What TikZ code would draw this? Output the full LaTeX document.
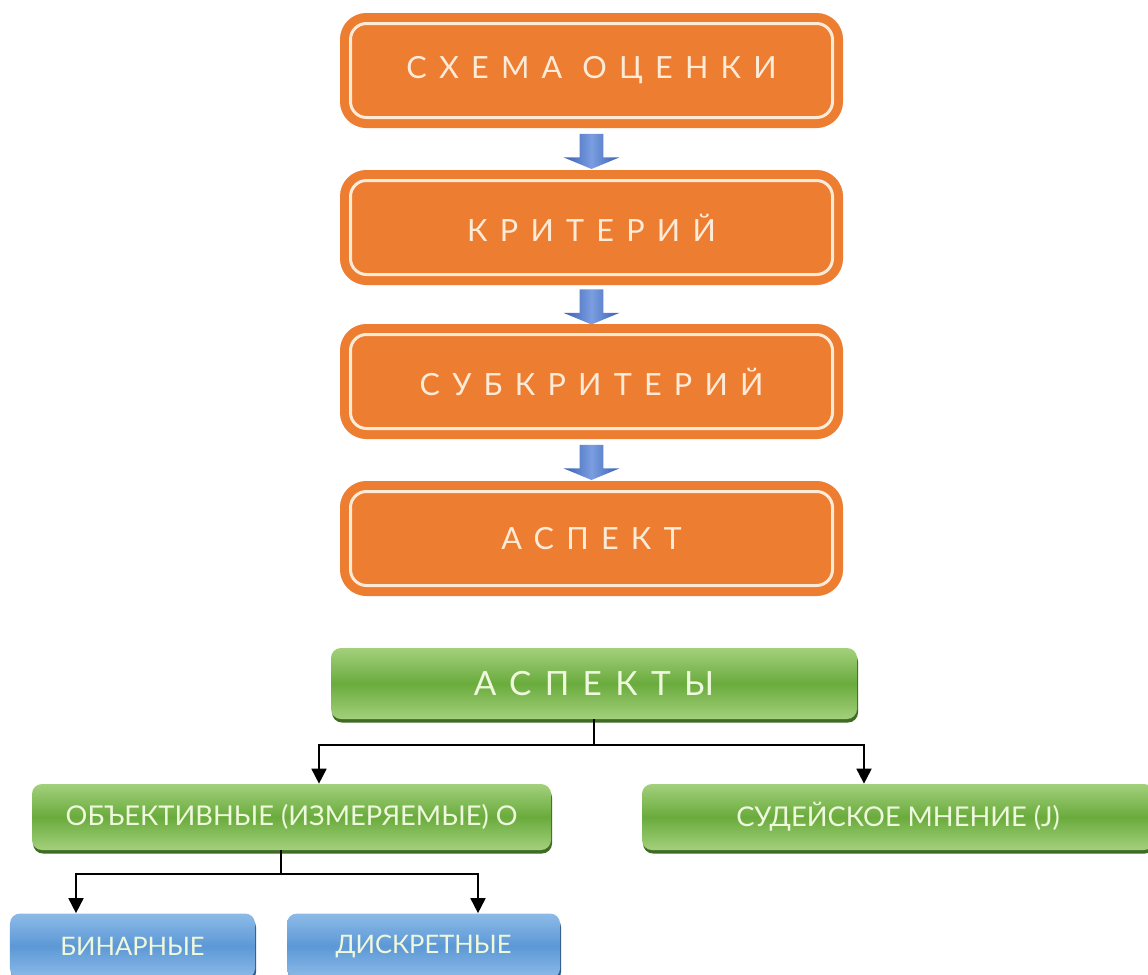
\documentclass[tikz,border=0pt]{standalone}
\usepackage{fontspec}
\setmainfont{Lato}
\newfontfamily\widefont[LetterSpace=40]{Lato}
\usetikzlibrary{arrows.meta,shapes.arrows,shadows,calc}

\definecolor{stageorange}{HTML}{ED7D31}
\definecolor{stagecream}{HTML}{FDEBD8}
\definecolor{arrowblue}{HTML}{3A62B5}
\definecolor{arrowlight}{HTML}{7A9EE0}
\definecolor{greenlight}{HTML}{A3D07C}
\definecolor{greenmid}{HTML}{6AAB3D}
\definecolor{greendark}{HTML}{3F6B24}
\definecolor{greentext}{HTML}{EEF8DC}
\definecolor{bluelight}{HTML}{8DBBE8}
\definecolor{bluemid}{HTML}{5C98D6}
\definecolor{bluedark}{HTML}{2F5A88}

\begin{document}
\begin{tikzpicture}[
    stage/.style = {draw = stageorange, double = stagecream, double distance = 0.06cm,
        line width = 0.18cm, fill = stageorange, rounded corners = 0.32cm,
        minimum width = 9.64cm, minimum height = 1.88cm, text = stagecream,
        font = \widefont\fontsize{17.4}{20}\selectfont},
    blockarrow/.style = {single arrow, shape border rotate = 270, inner sep = 0.23cm,
        minimum height = 0.7cm, minimum width = 1.1cm, single arrow head extend = 0.32cm,
        single arrow tip angle = 135, left color = arrowblue, right color = arrowblue,
        middle color = arrowlight},
    group/.style = {rounded corners = 0.2cm, top color = greenlight, bottom color = greenlight,
        middle color = greenmid, text = greentext, minimum height = 1.32cm,
        drop shadow = {shadow xshift = 0.02cm, shadow yshift = -0.07cm, fill = greendark, opacity = 1},
        font = \fontsize{15.5}{19}\selectfont},
    leaf/.style = {rounded corners = 0.2cm, top color = bluelight, bottom color = bluelight,
        middle color = bluemid, text = greentext, minimum height = 1.3cm,
        drop shadow = {shadow xshift = 0.02cm, shadow yshift = -0.07cm, fill = bluedark, opacity = 1},
        font = \fontsize{14.5}{17}\selectfont},
    link/.style = {line width = 1pt, -{Triangle[width = 0.3cm, length = 0.3cm]}}]
    \useasboundingbox[fill = white] (0,0) rectangle (22.96,-19.48);
    % evaluation chain
    \node[stage] (scheme) at (11.83,-1.41) {СХЕМА ОЦЕНКИ};
    \node[stage] (criterion) at (11.83,-4.55) {КРИТЕРИЙ};
    \node[stage] (subcriterion) at (11.83,-7.63) {СУБКРИТЕРИЙ};
    \node[stage] (aspect) at (11.83,-10.77) {АСПЕКТ};
    \node[blockarrow] (down1) at ($(scheme.south)!0.5!(criterion.north)$) {};
    \node[blockarrow] (down2) at ($(criterion.south)!0.5!(subcriterion.north)$) {};
    \node[blockarrow] (down3) at ($(subcriterion.south)!0.5!(aspect.north)$) {};
    % kinds of aspects
    \node[group, minimum width = 10.52cm, minimum height = 1.42cm,
        font = \widefont\fontsize{19}{23}\selectfont] (aspects) at (11.88,-13.67) {АСПЕКТЫ};
    \node[group, minimum width = 10.38cm] (objective) at (5.83,-16.34) {ОБЪЕКТИВНЫЕ (ИЗМЕРЯЕМЫЕ) О};
    \node[group, minimum width = 10.24cm] (judge) at (17.96,-16.34) {СУДЕЙСКОЕ МНЕНИЕ (J)};
    \node[leaf, minimum width = 4.9cm] (binary) at (2.65,-18.92) {БИНАРНЫЕ};
    \node[leaf, minimum width = 5.46cm] (discrete) at (8.47,-18.92) {ДИСКРЕТНЫЕ};
    \draw[line width = 1pt] (aspects.south) -- ++(0,-0.52) coordinate (busA);
    \draw[link] (busA) -| ([xshift = 0.55cm]objective.north);
    \draw[link] (busA) -| ([xshift = -0.68cm]judge.north);
    \draw[line width = 1pt] ([xshift = -0.21cm]objective.south) -- ++(0,-0.48) coordinate (busB);
    \draw[link] (busB) -| ([xshift = -1.13cm]binary.north);
    \draw[link] (busB) -| ([xshift = 1.09cm]discrete.north);
\end{tikzpicture}
\end{document}
